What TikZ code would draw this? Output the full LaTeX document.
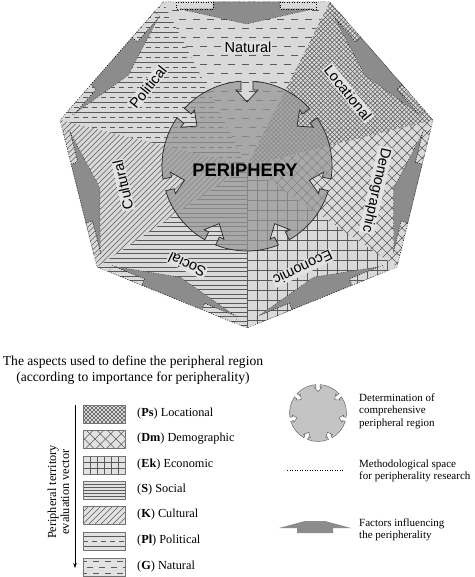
\documentclass[tikz,border=0pt]{standalone}
\usepackage{fontspec}
\setmainfont{Liberation Serif}
\newfontfamily\arialf{Liberation Sans}
\usetikzlibrary{calc,arrows.meta}
\definecolor{bgl}{HTML}{D9D9D9}
\definecolor{patc}{HTML}{5A5A5A}
\definecolor{darkar}{HTML}{8C8C8C}
\definecolor{circf}{HTML}{969696}
\definecolor{labbg}{HTML}{E2E2E2}
\definecolor{legc}{HTML}{C4C4C4}
% pattern helpers: xmin, xmax, ymin, ymax, step
\newcommand\pH[5]{\pgfmathtruncatemacro\pnn{((#4)-(#3))/(#5)}%
  \foreach \ii in {0,...,\pnn}{\draw ({#1},{#3+\ii*#5}) -- ({#2},{#3+\ii*#5});}}
\newcommand\pV[5]{\pgfmathtruncatemacro\pnn{((#2)-(#1))/(#5)}%
  \foreach \ii in {0,...,\pnn}{\draw ({#1+\ii*#5},{#3}) -- ({#1+\ii*#5},{#4});}}
\newcommand\pNE[5]{\pgfmathsetmacro\phh{(#4)-(#3)}\pgfmathtruncatemacro\pnn{((#2)-(#1)+\phh)/(#5)+1}%
  \foreach \ii in {0,...,\pnn}{\draw ({#1-\phh+\ii*#5},{#3}) -- ({#1+\ii*#5},{#4});}}
\newcommand\pNW[5]{\pgfmathsetmacro\phh{(#4)-(#3)}\pgfmathtruncatemacro\pnn{((#2)-(#1)+\phh)/(#5)+1}%
  \foreach \ii in {0,...,\pnn}{\draw ({#1-\phh+\ii*#5},{#4}) -- ({#1+\ii*#5},{#3});}}
\newcommand\pDash[6]{\pgfmathtruncatemacro\pnn{((#4)-(#3))/(#5)}%
  \foreach \ii in {0,...,\pnn}{\pgfmathsetmacro\pph{mod(\ii,2)*#6}%
    \draw[dash pattern=on #6pt off #6pt, dash phase=\pph pt] ({#1},{#3+\ii*#5}) -- ({#2},{#3+\ii*#5});}}
\newcommand\pPol[5]{\pgfmathtruncatemacro\pnn{((#4)-(#3))/(#5)}%
  \foreach \ii in {0,...,\pnn}{\pgfmathtruncatemacro\pmd{mod(\ii,2)}%
    \ifnum\pmd=0 \draw ({#1},{#3+\ii*#5}) -- ({#2},{#3+\ii*#5});%
    \else \draw[dash pattern=on 5pt off 4pt] ({#1},{#3+\ii*#5}) -- ({#2},{#3+\ii*#5});\fi}}
\tikzset{notched/.pic={\path[pic actions] (94.05:85)
  \foreach \k [evaluate=\k as \t using 90+\k*51.428571] in {1,...,7}{
    arc[start angle={\t-47.378571}, end angle={\t-4.05}, radius=85]
    -- ({\t-4.51}:76.24) -- ({\t-8.23}:76.79) -- (\t:64) -- ({\t+8.23}:76.79)
    -- ({\t+4.51}:76.24) -- ({\t+4.05}:85)} -- cycle;}}
\begin{document}
\begin{tikzpicture}[x=1pt,y=1pt,
  patl/.style={color=patc, line width=0.45pt},
  lab/.style={font=\arialf\fontsize{14.5}{17}\selectfont, fill=labbg, inner sep=1pt},
  leg/.style={font=\fontsize{12.3}{14}\selectfont, inner sep=0pt, anchor=west},
  legr/.style={font=\fontsize{11}{12.5}\selectfont, inner sep=0pt, anchor=west, align=left},
  dotln/.style={dotted, line width=0.5pt, draw=black},
  legbox/.style={draw=black!55, line width=0.5pt}]
\useasboundingbox (0,0) rectangle (474,-577);
\fill[white] (0,0) rectangle (474,-577);
\coordinate (C) at (247,-166);
\coordinate (V1) at (163,-2);
\coordinate (V2) at (330,-2);
\coordinate (V3) at (433,-120);
\coordinate (V4) at (397,-267);
\coordinate (V5) at (247,-328);
\coordinate (V6) at (97,-267);
\coordinate (V7) at (60,-120);
% background
\fill[bgl] (V1) -- (V2) -- (V3) -- (V4) -- (V5) -- (V6) -- (V7) -- cycle;
% Natural
\begin{scope}\clip (C) -- (V1) -- (V2) -- cycle;
  \begin{scope}[patl]\pDash{158}{336}{-172}{0}{9}{7}\end{scope}\end{scope}
% Locational
\begin{scope}\clip (C) -- (V2) -- (V3) -- cycle;
  \begin{scope}[patl]\pNE{244}{436}{-170}{0}{4.5}\pNW{244}{436}{-170}{0}{4.5}\end{scope}\end{scope}
% Demographic
\begin{scope}\clip (C) -- (V3) -- (V4) -- cycle;
  \begin{scope}[patl]\pNE{244}{436}{-270}{-116}{10}\pNW{244}{436}{-270}{-116}{10}\end{scope}\end{scope}
% Economic
\begin{scope}\clip (C) -- (V4) -- (V5) -- cycle;
  \begin{scope}[patl]\pH{244}{400}{-330}{-160}{10}\pV{247}{400}{-330}{-160}{10}\end{scope}\end{scope}
% Social
\begin{scope}\clip (C) -- (V5) -- (V6) -- cycle;
  \begin{scope}[patl]\pH{94}{250}{-330}{-160}{4.5}\end{scope}\end{scope}
% Cultural
\begin{scope}\clip (C) -- (V6) -- (V7) -- cycle;
  \begin{scope}[patl]\pNE{56}{250}{-270}{-116}{5.5}\end{scope}\end{scope}
% Political
\begin{scope}\clip (C) -- (V7) -- (V1) -- cycle;
  \begin{scope}[patl]\pPol{56}{250}{-172}{0}{5}\end{scope}\end{scope}
% central circle
\pic (pc) [fill=circf, fill opacity=0.73, draw=black!85, line width=0.7pt] at (C) {notched};
% edge arrows
\foreach \ax/\ay/\bx/\by in {330/-2/163/-2, 163/-2/60/-120, 60/-120/97/-267, 97/-267/247/-328, 247/-328/397/-267, 397/-267/433/-120, 433/-120/330/-2}{
  \pgfmathsetmacro\ang{atan2((\by)-(\ay),(\bx)-(\ax))}
  \pgfmathsetmacro\L{veclen((\bx)-(\ax),(\by)-(\ay))}
  \begin{scope}[shift={(\ax,\ay)}, rotate=\ang]
    \filldraw[fill=darkar, dotln] ({0.30*\L},0) -- ({0.70*\L},0) -- ({0.70*\L},7) -- ({0.90*\L},7)
      -- ({0.5*\L},22) -- ({0.10*\L},7) -- ({0.30*\L},7) -- cycle;
    \draw[dotln] ({0.08*\L},0) rectangle ({0.30*\L},7);
    \draw[dotln] ({0.70*\L},0) rectangle ({0.92*\L},7);
  \end{scope}}
% heptagon outline
\draw[dotln] (V1) -- (V2) -- (V3) -- (V4) -- (V5) -- (V6) -- (V7) -- cycle;
% labels
\node[lab] (lN) at (248,-47) {Natural};
\node[lab, rotate=-51.4] (lL) at (348,-93) {Locational};
\node[lab, rotate=-102.9] (lD) at (376,-190) {Demographic};
\node[lab, rotate=-154.3] (lE) at (303,-268) {Economic};
\node[lab, rotate=154.3] (lS) at (187,-265) {Social};
\node[lab, rotate=102.9] (lC) at (123,-185) {Cultural};
\node[lab, rotate=51.4] (lP) at (148,-87) {Political};
\node[font=\arialf\bfseries\fontsize{18.3}{20}\selectfont, inner sep=0pt] (per) at (245,-170) {PERIPHERY};
% legend title
\node[font=\fontsize{13.6}{16}\selectfont, align=center, inner sep=0pt] (title) at (133,-370)
  {The aspects used to define the peripheral region\\(according to importance for peripherality)};
% vertical vector
\coordinate (vt) at (75,-405);
\coordinate (vb) at (75,-568);
\draw[line width=0.6pt, -{Stealth[length=5pt,width=3.5pt]}] (vt) -- (vb);
\node[font=\fontsize{12.3}{13}\selectfont, align=center, rotate=90, inner sep=0pt] (vv) at (58.5,-492)
  {Peripheral territory\\evaluation vector};
% legend boxes
\foreach \c in {414,439,465,490,515,541,567}{\fill[labbg] (83,-\c+9) rectangle (125,-\c-9);}
\begin{scope}\clip (83,-405) rectangle (125,-423);
  \begin{scope}[patl]\pNE{83}{125}{-423}{-405}{4}\pNW{83}{125}{-423}{-405}{4}\end{scope}\end{scope}
\begin{scope}\clip (83,-430) rectangle (125,-448);
  \begin{scope}[patl]\pNE{83}{125}{-448}{-430}{10.5}\pNW{83}{125}{-448}{-430}{10.5}\end{scope}\end{scope}
\begin{scope}\clip (83,-456) rectangle (125,-474);
  \begin{scope}[patl]\pV{83}{125}{-474}{-456}{7}\pH{83}{125}{-474}{-456}{6}\end{scope}\end{scope}
\begin{scope}\clip (83,-481) rectangle (125,-499);
  \begin{scope}[patl]\pH{83}{125}{-499}{-481}{3}\end{scope}\end{scope}
\begin{scope}\clip (83,-506) rectangle (125,-524);
  \begin{scope}[patl]\pNE{83}{125}{-524}{-506}{6}\end{scope}\end{scope}
\begin{scope}\clip (83,-532) rectangle (125,-550);
  \begin{scope}[patl]\pPol{83}{125}{-546}{-536}{5}\end{scope}\end{scope}
\begin{scope}\clip (83,-558) rectangle (125,-576);
  \begin{scope}[patl]\pDash{81}{125}{-573}{-561}{6}{6}\end{scope}\end{scope}
\foreach \c in {414,439,465,490,515,541,567}{\draw[legbox] (83,-\c+9) rectangle (125,-\c-9);}
\node[leg] (t1) at (137,-414) {(\textbf{Ps}) Locational};
\node[leg] (t2) at (137,-439) {(\textbf{Dm}) Demographic};
\node[leg] (t3) at (137,-465) {(\textbf{Ek}) Economic};
\node[leg] (t4) at (137,-490) {(\textbf{S}) Social};
\node[leg] (t5) at (137,-515) {(\textbf{K}) Cultural};
\node[leg] (t6) at (137,-541) {(\textbf{Pl}) Political};
\node[leg] (t7) at (137,-567) {(\textbf{G}) Natural};
% right legend
\pic (lc) [fill=legc, draw=black!60, line width=0.5pt, scale=0.335] at (318,-413) {notched};
\node[legr] (r1) at (359,-411) {Determination of\\comprehensive\\peripheral region};
\coordinate (ml) at (287,-470);
\coordinate (mr) at (343,-470);
\draw[dotln] (ml) -- (mr);
\node[legr] (r2) at (359,-471) {Methodological space\\for peripherality research};
\fill[darkar] (279,-528) -- (305,-521) -- (325,-521) -- (351,-528) -- (333,-528) -- (333,-533) -- (297,-533) -- (297,-528) -- cycle;
\node[legr] (r3) at (359,-530) {Factors influencing\\the peripherality};
\end{tikzpicture}
\end{document}
